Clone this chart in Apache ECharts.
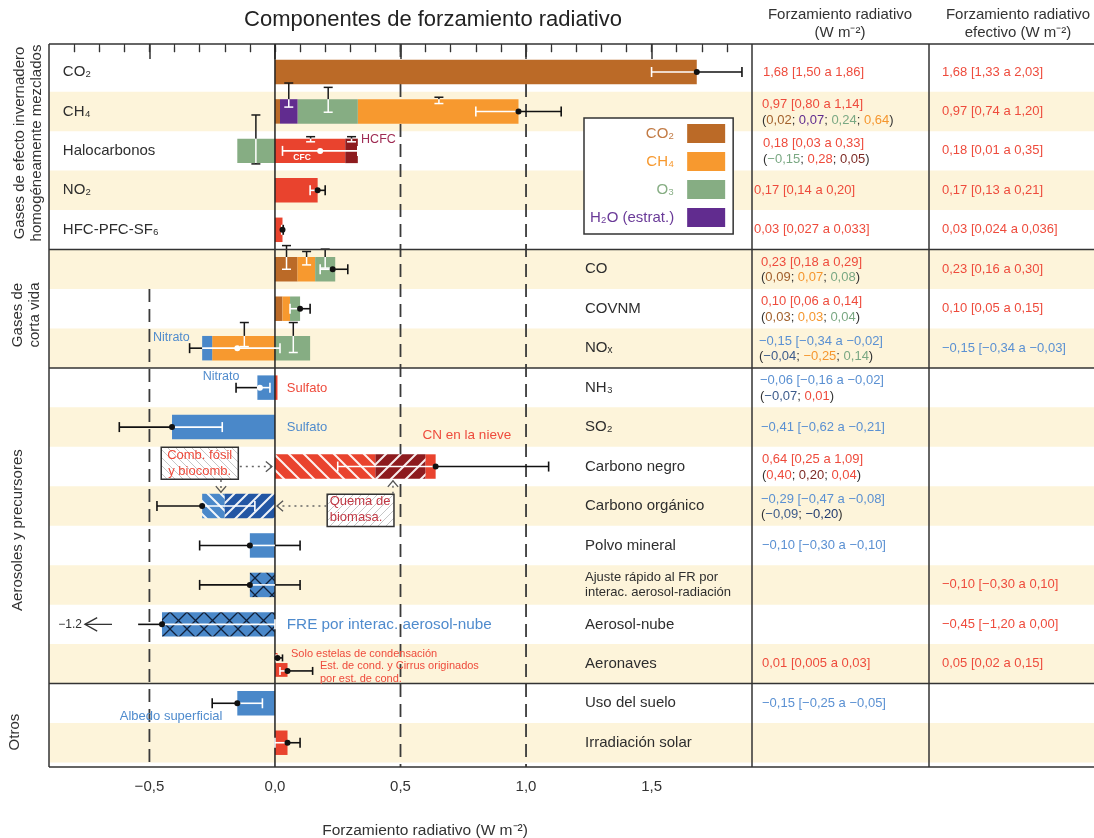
<!DOCTYPE html>
<html lang="es"><head><meta charset="utf-8"><title>Componentes de forzamiento radiativo</title>
<script src="https://cdn.jsdelivr.net/npm/echarts@6.0.0/dist/echarts.min.js"></script>
<style>html,body{margin:0;padding:0;background:#fff;}#chart{width:1094px;height:838px;}</style>
</head><body><div id="chart"></div><script>
const FONT = "'Liberation Sans', Arial, Helvetica, sans-serif";

// ---------------- categories ----------------
const rowLabels = ["CO₂","CH₄","Halocarbonos","NO₂","HFC-PFC-SF₆","CO","COVNM","NOₓ","NH₃","SO₂",
  "Carbono negro","Carbono orgánico","Polvo mineral","Ajuste rápido al FR por\ninterac. aerosol-radiación",
  "Aerosol-nube","Aeronaves","Uso del suelo","Irradiación solar"];
const groupNames = ["Gases de efecto invernadero\nhomogéneamente mezclados","Gases de\ncorta vida","Aerosoles y precursores","Otros"];
const groupStarts = [0, 5, 8, 16];

// ---------------- bar components: [row, from, to] ----------------
const co2Parts = [[0,0,1.68],[1,0,0.02],[5,0,0.09],[6,0,0.03]];
const ch4Parts = [[1,0.33,0.97],[5,0.09,0.16],[6,0.03,0.06],[7,-0.25,0]];
const o3Parts  = [[1,0.09,0.33],[2,-0.15,0],[5,0.16,0.24],[6,0.06,0.10],[7,0,0.14]];
const h2oParts = [[1,0.02,0.09]];
// [row, from, to, colour, hatch]
const halocarbonParts = [[2,0,0.28,'red',''],[2,0.28,0.33,'dred','']];
const otherGasParts = [[3,0,0.17,'red',''],[4,0,0.03,'red','']];
const aerosolParts = [
  [7,-0.29,-0.25,'blue',''],
  [8,-0.07,0,'blue',''],[8,0,0.01,'red',''],
  [9,-0.41,0,'blue',''],
  [10,0,0.40,'red','\\'],[10,0.40,0.60,'dred','/'],[10,0.60,0.64,'red',''],
  [11,-0.29,-0.20,'blue','\\'],[11,-0.20,0,'dblue','/'],
  [12,-0.10,0,'blue',''],
  [13,-0.10,0,'blue','x'],
  [14,-0.45,0,'blue','x']
];
const otherParts = [[16,-0.15,0,'blue',''],[17,0,0.05,'red','']];
const aviationParts = [[15,0,0.01],[15,0,0.05]];   // contrails only ; contrails + induced cirrus

// ---------------- best estimates and ranges ----------------
const bestEstimate = [1.68,0.97,0.18,0.17,0.03,0.23,0.10,-0.15,-0.06,-0.41,0.64,-0.29,-0.10,-0.10,-0.45,0.01,-0.15,0.05];
const lowEstimate  = [1.50,0.80,0.03,0.14,0.027,0.18,0.06,-0.34,-0.155,-0.62,0.25,-0.47,-0.30,-0.30,-1.20,0.005,-0.25,0.00];
const highEstimate = [1.86,1.14,0.33,0.20,0.033,0.29,0.14,0.02,-0.02,-0.21,1.09,-0.08,0.10,0.10,0.00,0.03,-0.05,0.10];
const aviationERF  = [0.05,0.02,0.15];
const whiteDotRows = [2,7,8];
// component uncertainty marks: [row, x, top, bottom] (top/bottom relative to row centre)
const componentUncert = [
  [1,0.055,-0.72,-0.11],[1,0.212,-0.61,0.02],[1,0.653,-0.36,-0.20],
  [2,-0.076,-0.91,0.33],[2,0.142,-0.36,-0.23],[2,0.305,-0.36,-0.23],
  [5,0.046,-0.60,0.0],[5,0.126,-0.45,-0.11],[5,0.20,-0.51,-0.03],
  [7,-0.122,-0.65,-0.04],[7,0.073,-0.65,0.11]
];

// ---------------- axis ticks ----------------
const majorTicks = [-0.5,0,0.5,1,1.5];
const tickLabels = ['−0,5','0,0','0,5','1,0','1,5'];
const minorTicks = [-0.8,-0.7,-0.6,-0.5,-0.4,-0.3,-0.2,-0.1,0,0.1,0.2,0.3,0.4,0.5,0.6,0.7,0.8,0.9,1.0,1.1,1.2,1.3,1.4,1.5,1.6,1.7,1.8];

// ---------------- table texts ----------------
const rfLine1 = ["1,68 [1,50 a 1,86]","0,97 [0,80 a 1,14]","0,18 [0,03 a 0,33]","0,17 [0,14 a 0,20]","0,03 [0,027 a 0,033]",
  "0,23 [0,18 a 0,29]","0,10 [0,06 a 0,14]","−0,15 [−0,34 a −0,02]","−0,06 [−0,16 a −0,02]","−0,41 [−0,62 a −0,21]",
  "0,64 [0,25 a 1,09]","−0,29 [−0,47 a −0,08]","−0,10 [−0,30 a −0,10]","","","0,01 [0,005 a 0,03]","−0,15 [−0,25 a −0,05]",""];
const rfColour = ['r','r','r','r','r','r','r','b','b','b','r','b','b','','','r','b',''];
const rfLine2 = [null,
  [["0,02","co2"],["0,07","h2o"],["0,24","o3"],["0,64","ch4"]],
  [["−0,15","o3"],["0,28","red"],["0,05","dred"]],
  null,null,
  [["0,09","co2"],["0,07","ch4"],["0,08","o3"]],
  [["0,03","co2"],["0,03","ch4"],["0,04","o3"]],
  [["−0,04","nblue"],["−0,25","ch4"],["0,14","o3"]],
  [["−0,07","nblue"],["0,01","red"]],
  null,
  [["0,40","red"],["0,20","dred"],["0,04","red"]],
  [["−0,09","nblue"],["−0,20","dblue"]],
  null,null,null,null,null,null];
const erfLine = ["1,68 [1,33 a 2,03]","0,97 [0,74 a 1,20]","0,18 [0,01 a 0,35]","0,17 [0,13 a 0,21]","0,03 [0,024 a 0,036]",
  "0,23 [0,16 a 0,30]","0,10 [0,05 a 0,15]","−0,15 [−0,34 a −0,03]","","","","","","−0,10 [−0,30 a 0,10]","−0,45 [−1,20 a 0,00]",
  "0,05 [0,02 a 0,15]","",""];
const erfColour = ['r','r','r','r','r','r','r','b','','','','','','r','r','r','',''];

// ---------------- styling / layout ----------------
const COL = {co2:'#bb6a27', ch4:'#f7992f', o3:'#86ad83', h2o:'#612c8f', red:'#e9432e', dred:'#8d1b1e',
  blue:'#4a88c9', dblue:'#2256a4', beige:'#fdf4da', ink:'#2b2b2b'};
const TXT = {r:'#ee4b3c', b:'#5a90d2', d:'#333333', co2:'#a2602c', ch4:'#f5962e', o3:'#7aa883', h2o:'#5f2b8f',
  red:'#ee4b3c', dred:'#7d2a24', nblue:'#3c5b8c', dblue:'#1f3a70'};
const Y_MIN = -0.209, Y_MAX = 18.115, X_MIN = -0.9, X_MAX = 1.9, BAR_H = 0.62;
const col1Indent = [11,10,11,2,2,9,9,7,8,9,10,9,10,10,10,10,10,10];
const TABLE_FS = 13;

function makeHatch(bg, fg, dirs, s, lw) {
  const c = document.createElement('canvas'); c.width = s; c.height = s;
  const g = c.getContext('2d');
  if (bg) { g.fillStyle = bg; g.fillRect(0, 0, s, s); }
  g.strokeStyle = fg; g.lineWidth = lw;
  g.beginPath();
  dirs.forEach(d => {
    if (d === '/') { g.moveTo(0,s); g.lineTo(s,0); g.moveTo(-s/2,s/2); g.lineTo(s/2,-s/2); g.moveTo(s/2,3*s/2); g.lineTo(3*s/2,s/2); }
    else { g.moveTo(0,0); g.lineTo(s,s); g.moveTo(-s/2,s/2); g.lineTo(s/2,3*s/2); g.moveTo(s/2,-s/2); g.lineTo(3*s/2,s/2); }
  });
  g.stroke();
  return {image: c, repeat: 'repeat'};
}
const PAT = {};
function fillFor(col, hatch) {
  if (!hatch) return COL[col];
  const key = col + hatch;
  if (!PAT[key]) {
    if (hatch === 'x') PAT[key] = makeHatch(COL[col], '#10203a', ['/','\\'], 17, 1.3);
    else PAT[key] = makeHatch(COL[col], 'rgba(255,255,255,0.92)', [hatch], (col === 'red' || col === 'dred') ? 15 : 13, 2);
  }
  return PAT[key];
}
const boxHatchA = makeHatch('#ffffff', '#c6c6c6', ['\\'], 8, 1);
const boxHatchB = makeHatch('#ffffff', '#c6c6c6', ['/'], 8, 1);

const yOf = (api, v) => api.coord([0, v])[1];
const xOf = (api, v) => api.coord([v, 0])[0];
function rowRect(api, row, a, b, off, h) {
  const x0 = xOf(api, Math.min(a, b)), x1 = xOf(api, Math.max(a, b));
  const y0 = yOf(api, row + 0.5 + off - h / 2), y1 = yOf(api, row + 0.5 + off + h / 2);
  return {x: x0, y: y0, width: x1 - x0, height: y1 - y0};
}
const line = (x1, y1, x2, y2, stroke, lw, dash) => ({type:'line', shape:{x1, y1, x2, y2},
  style:{stroke, lineWidth: lw || 1.5, fill:'none', lineDash: dash || null}});
function txt(text, x, y, fill, size, align, extra) {
  return {type:'text', x, y, style: Object.assign({text, fill, fontSize:size, fontFamily:FONT, align: align || 'left', verticalAlign:'middle'}, extra || {})};
}
function chevron(tx, ty, dx, dy, len, spread, color, lw) {
  const ax = -dx, ay = -dy, c = Math.cos(spread), s = Math.sin(spread);
  const p1 = [tx + len * (ax * c - ay * s), ty + len * (ax * s + ay * c)];
  const p2 = [tx + len * (ax * c + ay * s), ty + len * (-ax * s + ay * c)];
  return {type:'polyline', shape:{points:[p1, [tx, ty], p2]}, style:{stroke:color, lineWidth:lw, fill:'none'}};
}

// ---------- derived (built from the arrays above) ----------
const allMainParts = [].concat(co2Parts, ch4Parts, o3Parts, h2oParts, halocarbonParts, otherGasParts, aerosolParts, otherParts);
function barExtent(row) {
  let lo = 0, hi = 0;
  allMainParts.forEach(p => { if (p[0] === row) { lo = Math.min(lo, p[1], p[2]); hi = Math.max(hi, p[1], p[2]); } });
  return [lo, hi];
}
const AVI_OFF = [-0.175, 0.155], AVI_H = [0.2, 0.35], AVI_ERR_OFF = [-0.15, 0.18];
const errorItems = [];
for (let r = 0; r < 18; r++) {
  errorItems.push({row:r, off: r === 15 ? AVI_ERR_OFF[0] : 0, v: bestEstimate[r], lo: lowEstimate[r], hi: highEstimate[r],
    cap: r === 15 ? 7 : 10, bar: r === 15 ? [aviationParts[0][1], aviationParts[0][2]] : barExtent(r), white: whiteDotRows.includes(r)});
}
errorItems.push({row:15, off: AVI_ERR_OFF[1], v: aviationERF[0], lo: aviationERF[1], hi: aviationERF[2], cap: 8,
  bar: [aviationParts[1][1], aviationParts[1][2]], white:false});
const offScaleMark = [-0.545, -0.649, -0.757];   // break of the off-scale range (line end, arrow tail, arrow tip)

function partSeries(name, parts, colKey) {
  return {type:'custom', name, z:3, silent:true, itemStyle:{color: COL[colKey]},
    data: parts.map(p => [p[1], p[0]]),
    renderItem: (params, api) => {
      const p = parts[params.dataIndex];
      return {type:'rect', shape: rowRect(api, p[0], p[1], p[2], 0, BAR_H), style:{fill: COL[colKey]}};
    }};
}
const miscParts = [].concat(halocarbonParts, otherGasParts, aerosolParts, otherParts);

const option = {
  animation: false,
  backgroundColor: '#ffffff',
  textStyle: {fontFamily: FONT},
  grid: {left: 49, right: 342, top: 44, bottom: 71, containLabel: false},
  xAxis: [
    {type:'value', min:X_MIN, max:X_MAX, position:'bottom', axisLine:{show:false}, splitLine:{show:false},
      axisTick:{show:true, inside:true, length:5, customValues: minorTicks, lineStyle:{color:'#333', width:1.2}},
      axisLabel:{show:true, customValues: majorTicks, margin:12, fontSize:15, color:'#333', fontFamily:FONT,
        formatter: v => { const i = majorTicks.findIndex(t => Math.abs(t - v) < 1e-6); return i >= 0 ? tickLabels[i] : ''; }}},
    {type:'value', min:X_MIN, max:X_MAX, position:'top', axisLine:{show:false}, splitLine:{show:false}, axisLabel:{show:false},
      axisTick:{show:true, inside:true, length:15, customValues: majorTicks, lineStyle:{color:'#333', width:1.5}}},
    {type:'value', min:X_MIN, max:X_MAX, position:'top', axisLine:{show:false}, splitLine:{show:false}, axisLabel:{show:false},
      axisTick:{show:true, inside:true, length:8, customValues: minorTicks, lineStyle:{color:'#333', width:1.2}}}
  ],
  yAxis: {type:'value', min:Y_MIN, max:Y_MAX, inverse:true, show:false},
  legend: {
    left: 584, top: 118, orient:'vertical', align:'right', selectedMode:false,
    itemWidth: 38, itemHeight: 19, itemGap: 9, padding:[6, 8, 7, 6],
    borderColor:'#333', borderWidth:1.5, backgroundColor:'#fff',
    textStyle:{fontSize:15, fontFamily:FONT, padding:[0, 8, 0, 0]},
    data: [
      {name:'CO₂', icon:'rect', textStyle:{color: '#c27b45'}},
      {name:'CH₄', icon:'rect', textStyle:{color: COL.ch4}},
      {name:'O₃', icon:'rect', textStyle:{color: COL.o3}},
      {name:'H₂O (estrat.)', icon:'rect', textStyle:{color: '#6a3a98'}}
    ]
  },
  graphic: [
    {type:'text', x:433, y:20, style:{text:'Componentes de forzamiento radiativo', fill:'#222', fontSize:22, fontFamily:FONT, align:'center', verticalAlign:'middle'}},
    {type:'text', x:840, y:24, style:{text:'Forzamiento radiativo\n(W m⁻²)', fill:'#333', fontSize:15, fontFamily:FONT, align:'center', verticalAlign:'middle', lineHeight:18}},
    {type:'text', x:1018, y:24, style:{text:'Forzamiento radiativo\nefectivo (W m⁻²)', fill:'#333', fontSize:15, fontFamily:FONT, align:'center', verticalAlign:'middle', lineHeight:18}},
    {type:'text', x:425, y:831, style:{text:'Forzamiento radiativo (W m⁻²)', fill:'#333', fontSize:15.5, fontFamily:FONT, align:'center', verticalAlign:'middle'}}
  ],
  series: [
    // alternating background bands
    {type:'custom', name:'bands', z:1, silent:true,
      data: rowLabels.map((_, i) => [0, i]).filter(d => d[1] % 2 === 1),
      renderItem: (params, api) => {
        const r = api.value(1), cs = params.coordSys;
        const y0 = yOf(api, Math.max(r, Y_MIN)), y1 = yOf(api, Math.min(r + 1, Y_MAX));
        return {type:'rect', shape:{x: cs.x, y: y0, width: api.getWidth() - cs.x, height: y1 - y0}, style:{fill: COL.beige}};
      }},
    // dashed reference lines
    {type:'custom', name:'refs', z:2, silent:true,
      data: [[-0.5, 6.0], [0.5, Y_MIN], [1.0, Y_MIN]],
      renderItem: (params, api) => {
        const x = xOf(api, api.value(0));
        return line(x, yOf(api, api.value(1)), x, yOf(api, Y_MAX), '#3a3a3a', 1.8, [13, 7]);
      }},
    partSeries('CO₂', co2Parts, 'co2'),
    partSeries('CH₄', ch4Parts, 'ch4'),
    partSeries('O₃', o3Parts, 'o3'),
    partSeries('H₂O (estrat.)', h2oParts, 'h2o'),
    {type:'custom', name:'otros', z:3, silent:true,
      data: miscParts.map(p => [p[1], p[0]]),
      renderItem: (params, api) => {
        const p = miscParts[params.dataIndex];
        return {type:'rect', shape: rowRect(api, p[0], p[1], p[2], 0, BAR_H), style:{fill: fillFor(p[3], p[4])}};
      }},
    {type:'custom', name:'aeronaves', z:3, silent:true,
      data: aviationParts.map(p => [p[2], p[0]]),
      renderItem: (params, api) => {
        const i = params.dataIndex, p = aviationParts[i];
        return {type:'rect', shape: rowRect(api, p[0], p[1], p[2], AVI_OFF[i], AVI_H[i]), style:{fill: COL.red}};
      }},
    // zero line
    {type:'custom', name:'zero', z:4, silent:true, data:[[0, 0]],
      renderItem: (params, api) => line(xOf(api, 0), yOf(api, Y_MIN), xOf(api, 0), yOf(api, Y_MAX), '#222', 1.5)},
    // component uncertainty marks
    {type:'custom', name:'compUnc', z:5, silent:true,
      data: componentUncert.map(c => [c[1], c[0]]),
      renderItem: (params, api) => {
        const [row, x, t, b] = componentUncert[params.dataIndex];
        const c = row + 0.5, px = xOf(api, x);
        const yT = yOf(api, c + t), yB = yOf(api, c + b);
        const bt = yOf(api, c - BAR_H / 2), bb = yOf(api, c + BAR_H / 2);
        const kids = [];
        const seg = (a, z, col) => { if (z > a) kids.push(line(px, a, px, z, col, 1.5)); };
        seg(yT, Math.min(yB, bt), '#1a1a1a');
        seg(Math.max(yT, bt), Math.min(yB, bb), '#ffffff');
        seg(Math.max(yT, bb), yB, '#1a1a1a');
        const capCol = y => (y > bt && y < bb) ? '#ffffff' : '#1a1a1a';
        kids.push(line(px - 4.5, yT, px + 4.5, yT, capCol(yT), 1.5));
        kids.push(line(px - 4.5, yB, px + 4.5, yB, capCol(yB), 1.5));
        return {type:'group', children: kids};
      }},
    // best estimates with uncertainty ranges
    {type:'custom', name:'errors', z:6, silent:true,
      data: errorItems.map(e => [e.v, e.row]),
      renderItem: (params, api) => {
        const e = errorItems[params.dataIndex];
        const yc = yOf(api, e.row + 0.5 + e.off);
        const X = v => xOf(api, v);
        const [b0, b1] = e.bar;
        const broken = e.lo < X_MIN;
        const lo = broken ? offScaleMark[0] : e.lo, hi = e.hi;
        const K = '#111', W = '#ffffff', kids = [];
        if (lo < b0) kids.push(line(X(lo), yc, X(Math.min(b0, hi)), yc, K, 1.6));
        const w0 = Math.max(lo, b0), w1 = Math.min(hi, b1);
        if (w1 > w0) kids.push(line(X(w0), yc, X(w1), yc, W, 1.6));
        if (hi > b1) kids.push(line(X(Math.max(b1, lo)), yc, X(hi), yc, K, 1.6));
        const inside = v => v >= b0 - 1e-9 && v <= b1 + 1e-9;
        const h = e.cap / 2;
        if (!broken) kids.push(line(X(lo), yc - h, X(lo), yc + h, inside(lo) ? W : K, 1.6));
        kids.push(line(X(hi), yc - h, X(hi), yc + h, inside(hi) ? W : K, 1.6));
        if (broken) {
          kids.push(line(X(offScaleMark[1]), yc, X(offScaleMark[2]), yc, '#333', 1.3));
          kids.push(chevron(X(offScaleMark[2]), yc, -1, 0, 14, 0.5, '#333', 1.3));
          kids.push(txt('−' + String(Math.abs(e.lo).toFixed(1)), X(offScaleMark[2]) - 3, yc, '#333', 12, 'right'));
        }
        kids.push({type:'circle', shape:{cx: X(e.v), cy: yc, r: 3}, style:{fill: e.white ? W : K, stroke:'none'}});
        return {type:'group', children: kids};
      }},
    // frame, separators, row labels, group labels, table
    {type:'custom', name:'frame', z:7, silent:true, data:[[0, 0]],
      renderItem: (params, api) => {
        const cs = params.coordSys, L = cs.x, T = cs.y, R = cs.x + cs.width, B = cs.y + cs.height, Wd = api.getWidth();
        const k = [];
        const ink = '#333';
        k.push(line(L, T, Wd, T, ink, 1.5), line(L, B, Wd, B, ink, 1.5), line(L, T, L, B, ink, 1.5),
               line(R, T, R, B, ink, 1.5), line(R + 177, T, R + 177, B, ink, 1.5));
        groupStarts.slice(1).forEach(r => { const y = yOf(api, r); k.push(line(L, y, Wd, y, ink, 1.5)); });
        // group labels (rotated)
        const gY = [2.3, 6.66, 12.11, 17.23], gX = [28, 26, 18, 15];
        groupNames.forEach((g, i) => {
          k.push({type:'text', x: gX[i], y: yOf(api, gY[i]), rotation: Math.PI / 2,
            style:{text: g, fill:'#333', fontSize:15, fontFamily:FONT, align:'center', verticalAlign:'middle', lineHeight:17}});
        });
        // row labels
        rowLabels.forEach((t, i) => {
          const y = yOf(api, i + 0.5);
          const x = i < 5 ? xOf(api, -0.845) : xOf(api, 1.235);
          const small = t.indexOf('\n') >= 0;
          k.push(txt(t, x, y, '#2e2e2e', small ? 13 : 15, 'left', {lineHeight: small ? 15 : 18}));
        });
        // table
        const rich = {};
        Object.keys(TXT).forEach(key => { rich[key] = {fill: TXT[key], fontSize:TABLE_FS, fontFamily:FONT}; });
        for (let r = 0; r < 18; r++) {
          const y = yOf(api, r + 0.5);
          if (rfLine1[r]) {
            const two = !!rfLine2[r];
            k.push(txt(rfLine1[r], R + col1Indent[r], two ? y - 7 : y, TXT[rfColour[r]], TABLE_FS));
            if (two) {
              const s = '{d|(}' + rfLine2[r].map(p => '{' + p[1] + '|' + p[0] + '}').join('{d|; }') + '{d|)}';
              k.push(txt(s, R + col1Indent[r], y + 8.5, '#333', TABLE_FS, 'left', {rich}));
            }
          }
          if (erfLine[r]) k.push(txt(erfLine[r], R + 190, y, TXT[erfColour[r]], TABLE_FS));
        }
        return {type:'group', children: k};
      }},
    // annotations inside the plot
    {type:'custom', name:'notes', z:8, silent:true, data:[[0, 0]],
      renderItem: (params, api) => {
        const P = (x, y) => api.coord([x, y]);
        const k = [];
        const red = '#ee4b3c', blue = '#4f8bcd';
        const notes = [
          ['CFC', 0.108, 2.66, '#ffffff', 8.5, 'center', 'bold'],
          ['HCFC', 0.343, 2.22, '#9e2a52', 12.5, 'left'],
          ['Nitrato', -0.486, 7.24, blue, 12.5, 'left'],
          ['Nitrato', -0.288, 8.22, blue, 12.5, 'left'],
          ['Sulfato', 0.047, 8.51, red, 13, 'left'],
          ['Sulfato', 0.047, 9.5, blue, 13, 'left'],
          ['CN en la nieve', 0.588, 9.7, red, 13.5, 'left'],
          ['FRE por interac. aerosol-nube', 0.047, 14.5, blue, 15.3, 'left'],
          ['Albedo superficial', -0.618, 16.83, blue, 13, 'left'],
          ['Solo estelas de condensación', 0.064, 15.25, red, 11, 'left'],
          ['Est. de cond. y Cirrus originados', 0.179, 15.55, red, 11, 'left'],
          ['por est. de cond.', 0.179, 15.89, red, 11, 'left']
        ];
        notes.forEach(n => {
          const p = P(n[1], n[2]);
          k.push(txt(n[0], p[0], p[1], n[3], n[4], n[5], n[6] ? {fontWeight: n[6]} : null));
        });
        // boxes
        const box = (x0, y0, x1, y1, pat) => {
          const a = P(x0, y0), b = P(x1, y1);
          k.push({type:'rect', shape:{x:a[0], y:a[1], width:b[0] - a[0], height:b[1] - a[1]}, style:{fill: pat, stroke:'#333', lineWidth:1.5}});
        };
        box(-0.453, 10.01, -0.146, 10.82, boxHatchA);
        box(0.208, 11.20, 0.474, 12.02, boxHatchB);
        let p = P(-0.30, 10.21); k.push(txt('Comb. fósil', p[0], p[1], red, 13, 'center'));
        p = P(-0.30, 10.63); k.push(txt('y biocomb.', p[0], p[1], red, 13, 'center'));
        p = P(0.218, 11.39); k.push(txt('Quema de', p[0], p[1], '#c23a46', 13, 'left'));
        p = P(0.218, 11.80); k.push(txt('biomasa.', p[0], p[1], '#c23a46', 13, 'left'));
        // dotted arrows
        const arrow = (x0, y0, x1, y1) => {
          const a = P(x0, y0), b = P(x1, y1);
          k.push(line(a[0], a[1], b[0], b[1], '#666', 1.5, [2, 4]));
          const dx = b[0] - a[0], dy = b[1] - a[1], d = Math.hypot(dx, dy);
          k.push(chevron(b[0], b[1], dx / d, dy / d, 8, 0.7, '#555', 1.3));
        };
        arrow(-0.14, 10.5, -0.012, 10.5);
        arrow(-0.215, 10.84, -0.215, 11.15);
        arrow(0.205, 11.5, 0.008, 11.5);
        arrow(0.47, 11.19, 0.47, 10.86);
        return {type:'group', children: k};
      }}
  ]
};
const chart = echarts.init(document.getElementById('chart'), null, {renderer:'canvas'});
chart.setOption(option);
</script></body></html>
